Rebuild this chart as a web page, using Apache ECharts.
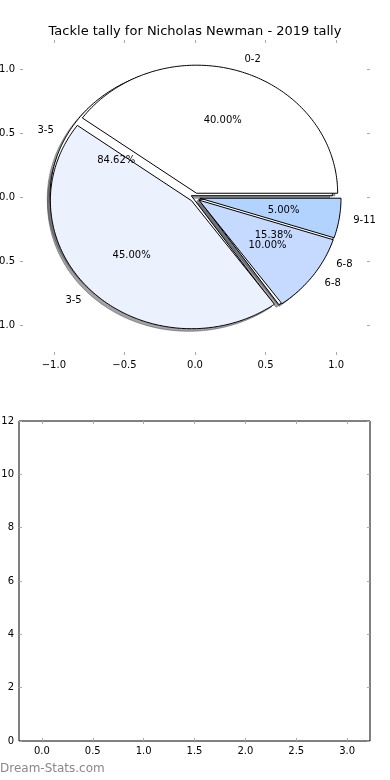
<!DOCTYPE html>
<html><head><meta charset="utf-8">
<script src="https://cdn.jsdelivr.net/npm/echarts@6/dist/echarts.min.js"></script>
<style>html,body{margin:0;padding:0;background:#fff}#c{width:390px;height:780px}</style>
</head><body><div id="c"></div>
<script>
const titleText = 'Tackle tally for Nicholas Newman - 2019 tally';
const pie1Labels = ['0-2', '3-5', '6-8', '9-11'];
const pie1Values = [40, 45, 10, 5];
const pie1Colors = ['#ffffff', '#ebf1fd', '#c6d9ff', '#b3d3ff'];
const pie1Explode = [0.035, 0.035, 0.035, 0.035];
const pie2Labels = ['3-5', '6-8'];
const pie2Values = [11, 2];
const pie2Colors = ['#ffffff', '#ffffff'];
const pie2Explode = [0.03, 0.03];
const pieTicks = [-1, -0.5, 0, 0.5, 1];
const barXTicks = [0, 0.5, 1, 1.5, 2, 2.5, 3];
const barYTicks = [0, 2, 4, 6, 8, 10, 12];
const watermark = 'Dream-Stats.com';

const FONT = '"DejaVu Sans", sans-serif';
const toRad = d => d * Math.PI / 180;

function buildWedges(values, explode) {
  const total = values.reduce((a, b) => a + b, 0);
  let acc = 0;
  return values.map((v, i) => {
    const start = acc / total * 360;
    acc += v;
    const end = acc / total * 360;
    const mid = (start + end) / 2;
    const cx = explode[i] * Math.cos(toRad(mid));
    const cy = explode[i] * Math.sin(toRad(mid));
    return { start, end, mid, cx, cy, frac: v / total };
  });
}
const wedges1 = buildWedges(pie1Values, pie1Explode);
const wedges2 = buildWedges(pie2Values, pie2Explode);

function wedgePoints(api, w, dx, dy) {
  const cx = w.cx + dx, cy = w.cy + dy;
  const pts = [api.coord([cx, cy])];
  const n = Math.max(2, Math.ceil(w.end - w.start));
  for (let k = 0; k <= n; k++) {
    const a = toRad(w.start + (w.end - w.start) * k / n);
    pts.push(api.coord([cx + Math.cos(a), cy + Math.sin(a)]));
  }
  return pts;
}
function hexToRgb(h) {
  const n = parseInt(h.slice(1), 16);
  return [(n >> 16) & 255, (n >> 8) & 255, n & 255];
}
function wedgeRenderer(wedges, colors, shadow) {
  return function (params, api) {
    const w = wedges[params.dataIndex];
    if (shadow) {
      const rgb = hexToRgb(colors[params.dataIndex]).map(c => Math.round(c * 0.3));
      const col = 'rgba(' + rgb.join(',') + ',0.5)';
      return { type: 'polygon', shape: { points: wedgePoints(api, w, -0.02, -0.02) },
        style: { fill: col, stroke: col, lineWidth: 1 } };
    }
    return { type: 'polygon', shape: { points: wedgePoints(api, w, 0, 0) },
      style: { fill: colors[params.dataIndex], stroke: '#000', lineWidth: 1 } };
  };
}

// labels (text) for both pies
const labelItems = [];
function addLabels(wedges, labels) {
  wedges.forEach((w, i) => {
    const m = toRad(w.mid);
    const lx = w.cx + 1.1 * Math.cos(m), ly = w.cy + 1.1 * Math.sin(m);
    labelItems.push({ x: lx, y: ly, text: labels[i], align: lx > 0 ? 'left' : 'right' });
    const px = w.cx + 0.6 * Math.cos(m), py = w.cy + 0.6 * Math.sin(m);
    labelItems.push({ x: px, y: py, text: (w.frac * 100).toFixed(2) + '%', align: 'center' });
  });
}
addLabels(wedges1, pie1Labels);
addLabels(wedges2, pie2Labels);

const fmt = v => (v < 0 ? '\u2212' : '') + Math.abs(v).toFixed(1);
const tickStyle = { show: true, inside: true, length: 3, lineStyle: { color: '#aaa', width: 1 } };

function axis(gridIndex, pos, min, max, ticks, showLabel, formatter) {
  return {
    type: 'value', gridIndex, position: pos, min, max,
    axisLine: { show: false, onZero: false }, splitLine: { show: false },
    axisTick: Object.assign({ customValues: ticks }, tickStyle),
    axisLabel: { show: showLabel, customValues: ticks, formatter, fontSize: 10,
      fontFamily: FONT, color: '#000', margin: 5 }
  };
}

const chart = echarts.init(document.getElementById('c'), null, { renderer: 'canvas' });
chart.setOption({
  animation: false,
  backgroundColor: '#fff',
  title: { text: titleText, left: 'center', top: 20,
    textStyle: { fontSize: 13, fontWeight: 'normal', color: '#000', fontFamily: FONT } },
  graphic: [{ type: 'text', left: 0, top: 763,
    style: { text: watermark, font: '12px ' + FONT, fill: '#888' } }],
  grid: [
    { left: 20, top: 40, width: 350, height: 315, show: false, containLabel: false, outerBoundsMode: 'none' },
    { left: 19, top: 421, width: 351, height: 320, show: true, borderColor: '#000', borderWidth: 1,
      backgroundColor: '#fff', containLabel: false, outerBoundsMode: 'none' }
  ],
  xAxis: [
    axis(0, 'bottom', -1.24, 1.24, pieTicks, true, fmt),
    axis(0, 'top', -1.24, 1.24, pieTicks, false, fmt),
    axis(1, 'bottom', -0.225, 3.225, barXTicks, true, fmt),
    axis(1, 'top', -0.225, 3.225, barXTicks, false, fmt)
  ],
  yAxis: [
    axis(0, 'left', -1.23, 1.23, pieTicks, true, fmt),
    axis(0, 'right', -1.23, 1.23, pieTicks, false, fmt),
    axis(1, 'left', 0, 12, barYTicks, true, v => String(v)),
    axis(1, 'right', 0, 12, barYTicks, false, v => String(v))
  ],
  series: [
    { type: 'custom', name: 'shadow2', xAxisIndex: 0, yAxisIndex: 0, z: 1,
      data: pie2Values, renderItem: wedgeRenderer(wedges2, pie2Colors, true) },
    { type: 'custom', name: 'shadow1', xAxisIndex: 0, yAxisIndex: 0, z: 1,
      data: pie1Values, renderItem: wedgeRenderer(wedges1, pie1Colors, true) },
    { type: 'custom', name: 'pie2', xAxisIndex: 0, yAxisIndex: 0, z: 2,
      data: pie2Values, renderItem: wedgeRenderer(wedges2, pie2Colors, false) },
    { type: 'custom', name: 'pie1', xAxisIndex: 0, yAxisIndex: 0, z: 3,
      data: pie1Values, renderItem: wedgeRenderer(wedges1, pie1Colors, false) },
    { type: 'custom', name: 'labels', xAxisIndex: 0, yAxisIndex: 0, z: 4,
      data: labelItems.map((_, i) => i),
      renderItem: function (params, api) {
        const it = labelItems[params.dataIndex];
        const p = api.coord([it.x, it.y]);
        return { type: 'text', x: p[0], y: p[1],
          style: { text: it.text, font: '10px ' + FONT, fill: '#000',
            textAlign: it.align, textVerticalAlign: 'middle', align: it.align, verticalAlign: 'middle' } };
      } },
    { type: 'line', xAxisIndex: 2, yAxisIndex: 2, data: [] }
  ]
});
</script></body></html>
